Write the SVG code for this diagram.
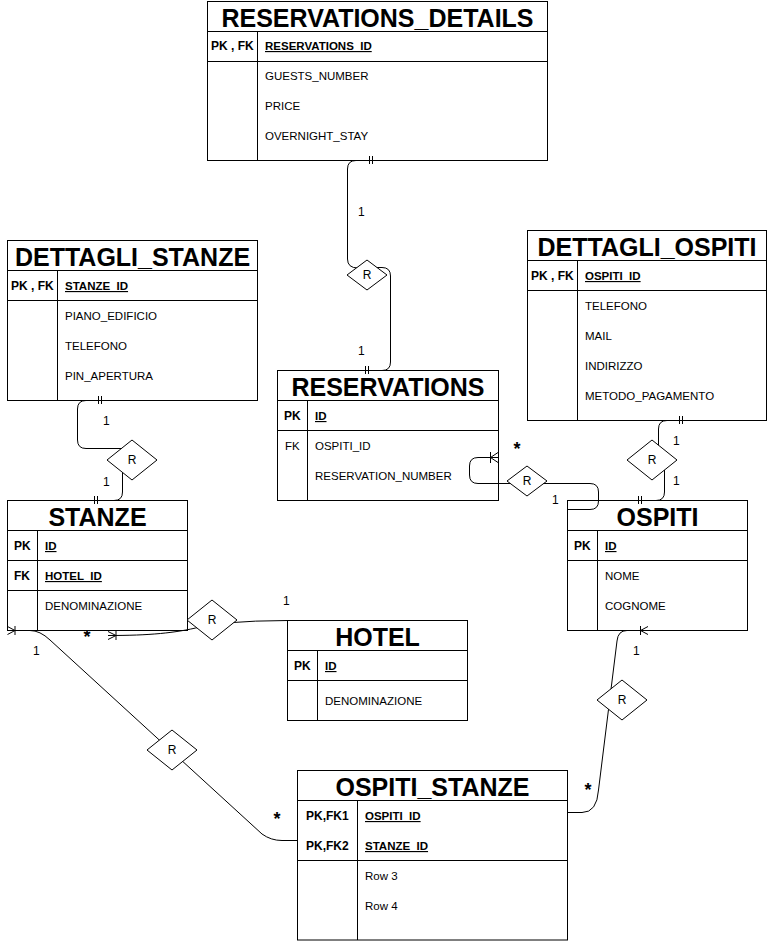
<svg xmlns="http://www.w3.org/2000/svg" width="768" height="941" viewBox="0 0 768 941">
<style>
.bg{fill:#fff}
.box{fill:#fff;stroke:#000;stroke-width:1}
.ln{fill:none;stroke:#000;stroke-width:1}
.title{font-family:"Liberation Sans",Arial,sans-serif;font-weight:bold;font-size:25px;text-anchor:middle;fill:#000}
.pk{font-family:"Liberation Sans",Arial,sans-serif;font-weight:bold;font-size:12px;fill:#000}
.key{font-family:"Liberation Sans",Arial,sans-serif;font-weight:bold;font-size:11.5px;text-decoration:underline;fill:#000}
.attr{font-family:"Liberation Sans",Arial,sans-serif;font-size:11.5px;fill:#000}
.lbl{font-family:"Liberation Sans",Arial,sans-serif;font-size:12px;fill:#000}
.star{font-family:"Liberation Sans",Arial,sans-serif;font-weight:bold;font-size:18px;fill:#000;text-anchor:middle}
.rel{fill:#fff;stroke:#000;stroke-width:1}
.rt{font-family:"Liberation Sans",Arial,sans-serif;font-size:12px;text-anchor:middle;fill:#000}
</style>
<rect class="bg" x="0" y="0" width="768" height="941"/>

<g id="reservations_details">
<rect class="box" x="207.5" y="1.5" width="340" height="159"/>
<path class="ln" d="M207.5 31.5H547.5M207.5 61.5H547.5M257.5 31.5V160.5"/>
<text class="title" x="377.5" y="27">RESERVATIONS_DETAILS</text>
<text class="pk" x="211" y="50">PK , FK</text>
<text class="key" x="265" y="50">RESERVATIONS_ID</text>
<text class="attr" x="265" y="80">GUESTS_NUMBER</text>
<text class="attr" x="265" y="110">PRICE</text>
<text class="attr" x="265" y="140">OVERNIGHT_STAY</text>
</g>

<g id="dettagli_stanze">
<rect class="box" x="7.5" y="240.5" width="250" height="160"/>
<path class="ln" d="M7.5 270.5H257.5M7.5 300.5H257.5M57.5 270.5V400.5"/>
<text class="title" x="132.5" y="266">DETTAGLI_STANZE</text>
<text class="pk" x="11" y="290">PK , FK</text>
<text class="key" x="65" y="290">STANZE_ID</text>
<text class="attr" x="65" y="320">PIANO_EDIFICIO</text>
<text class="attr" x="65" y="350">TELEFONO</text>
<text class="attr" x="65" y="380">PIN_APERTURA</text>
</g>

<g id="reservations">
<rect class="box" x="277.5" y="370.5" width="221" height="130"/>
<path class="ln" d="M277.5 400.5H498.5M277.5 430.5H498.5M307.5 400.5V500.5"/>
<text class="title" x="388" y="396">RESERVATIONS</text>
<text class="pk" x="284" y="420">PK</text>
<text class="key" x="315" y="420">ID</text>
<text class="attr" x="285" y="450">FK</text>
<text class="attr" x="315" y="450">OSPITI_ID</text>
<text class="attr" x="315" y="480">RESERVATION_NUMBER</text>
</g>

<g id="dettagli_ospiti">
<rect class="box" x="527.5" y="230.5" width="239" height="190"/>
<path class="ln" d="M527.5 260.5H766.5M527.5 290.5H766.5M577.5 260.5V420.5"/>
<text class="title" x="647" y="256">DETTAGLI_OSPITI</text>
<text class="pk" x="531" y="280">PK , FK</text>
<text class="key" x="585" y="280">OSPITI_ID</text>
<text class="attr" x="585" y="310">TELEFONO</text>
<text class="attr" x="585" y="340">MAIL</text>
<text class="attr" x="585" y="370">INDIRIZZO</text>
<text class="attr" x="585" y="400">METODO_PAGAMENTO</text>
</g>

<g id="stanze">
<rect class="box" x="7.5" y="500.5" width="180" height="130"/>
<path class="ln" d="M7.5 530.5H187.5M7.5 560.5H187.5M7.5 590.5H187.5M37.5 530.5V630.5"/>
<text class="title" x="97.5" y="526">STANZE</text>
<text class="pk" x="14" y="550">PK</text>
<text class="key" x="45" y="550">ID</text>
<text class="pk" x="14" y="580">FK</text>
<text class="key" x="45" y="580">HOTEL_ID</text>
<text class="attr" x="45" y="610">DENOMINAZIONE</text>
</g>

<g id="hotel">
<rect class="box" x="287.5" y="620.5" width="180" height="100"/>
<path class="ln" d="M287.5 650.5H467.5M287.5 680.5H467.5M317.5 650.5V720.5"/>
<text class="title" x="377.5" y="646">HOTEL</text>
<text class="pk" x="294" y="670">PK</text>
<text class="key" x="325" y="670">ID</text>
<text class="attr" x="325" y="705">DENOMINAZIONE</text>
</g>

<g id="ospiti">
<rect class="box" x="567.5" y="500.5" width="180" height="130"/>
<path class="ln" d="M567.5 530.5H747.5M567.5 560.5H747.5M597.5 530.5V630.5"/>
<text class="title" x="657.5" y="526">OSPITI</text>
<text class="pk" x="574" y="550">PK</text>
<text class="key" x="605" y="550">ID</text>
<text class="attr" x="605" y="580">NOME</text>
<text class="attr" x="605" y="610">COGNOME</text>
</g>

<g id="ospiti_stanze">
<rect class="box" x="297.5" y="770.5" width="270" height="169.5"/>
<path class="ln" d="M297.5 800.5H567.5M297.5 860.5H567.5M357.5 800.5V940"/>
<text class="title" x="432.5" y="796">OSPITI_STANZE</text>
<text class="pk" x="306" y="820">PK,FK1</text>
<text class="key" x="365" y="820">OSPITI_ID</text>
<text class="pk" x="306" y="850">PK,FK2</text>
<text class="key" x="365" y="850">STANZE_ID</text>
<text class="attr" x="365" y="880">Row 3</text>
<text class="attr" x="365" y="910">Row 4</text>
</g>

<g id="connectors">
<!-- RESERVATIONS_DETAILS - R - RESERVATIONS -->
<path class="ln" d="M373 160.5H356Q347.5 160.5 347.5 169V259Q347.5 268 358 268"/>
<path class="ln" d="M369.5 156V164M372.5 156V164"/>
<path class="ln" d="M376 267.5H382Q390.5 267.5 390.5 276V362Q390.5 370.5 382 370.5H364"/>
<path class="ln" d="M365.5 366V374M368.5 366V374"/>
<!-- DETTAGLI_STANZE - R - STANZE -->
<path class="ln" d="M102 400.5H86Q77.5 400.5 77.5 409V440Q77.5 448.5 86 448.5H122"/>
<path class="ln" d="M98.5 396V404M101.5 396V404"/>
<path class="ln" d="M122.5 468V492Q122.5 500.5 114 500.5H92"/>
<path class="ln" d="M94.5 496V504M97.5 496V504"/>
<!-- DETTAGLI_OSPITI - R - OSPITI -->
<path class="ln" d="M684 420.5H667Q658.5 420.5 658.5 429V448"/>
<path class="ln" d="M679.5 416V424M682.5 416V424"/>
<path class="ln" d="M664.5 470V492Q664.5 500.5 656 500.5H636"/>
<path class="ln" d="M638.5 496V504M641.5 496V504"/>
<!-- RESERVATIONS - R - OSPITI -->
<path class="ln" d="M498 457.5H478Q469.5 457.5 469.5 466V475Q469.5 483.5 478 483.5H515"/>
<path class="ln" d="M490.5 452V463M490.5 457.5L498 452.5M490.5 457.5L498 462.5"/>
<path class="ln" d="M540 483.5H590Q598.5 483.5 598.5 492V501Q598.5 509.5 590 509.5H567.5"/>
<!-- STANZE - R - HOTEL -->
<path class="ln" d="M108 635.5C150 635.5 175 633 200 627"/>
<path class="ln" d="M108 631.5L116 635.5L108 639.5M116 631V640"/>
<path class="ln" d="M225 623Q255 620.5 287.5 620.5"/>
<!-- STANZE - R - OSPITI_STANZE -->
<path class="ln" d="M7.5 630.5H30Q40 630.5 50 640L262 834Q271 840.5 282 840.5H297.5"/>
<path class="ln" d="M7.5 626.5L15 630.5L7.5 634.5M15 626V635"/>
<!-- OSPITI - R - OSPITI_STANZE -->
<path class="ln" d="M640 630.5H627Q618 630.5 617 641L598.5 790Q597 812.5 582 812.5H567.5"/>
<path class="ln" d="M640.5 626V635M640.5 630.5L648 626.5M640.5 630.5L648 634.5"/>
<!-- cardinality labels -->
<text class="lbl" x="358" y="216">1</text>
<text class="lbl" x="358" y="355">1</text>
<text class="lbl" x="103" y="425">1</text>
<text class="lbl" x="103" y="486">1</text>
<text class="lbl" x="673" y="445">1</text>
<text class="lbl" x="673" y="485">1</text>
<text class="lbl" x="552" y="504">1</text>
<text class="lbl" x="283" y="605">1</text>
<text class="lbl" x="33" y="655">1</text>
<text class="lbl" x="633" y="655">1</text>
<text class="star" x="517" y="455">*</text>
<text class="star" x="87" y="643">*</text>
<text class="star" x="277" y="825">*</text>
<text class="star" x="588" y="796">*</text>
</g>

<g id="rel_res_details">
<polygon class="rel" points="367,260 387,275 367,290 347,275"/>
<text class="rt" x="367" y="279">R</text>
</g>
<g id="rel_dettagli_stanze">
<polygon class="rel" points="132,440 157,460 132,480 107,460"/>
<text class="rt" x="132" y="464">R</text>
</g>
<g id="rel_dettagli_ospiti">
<polygon class="rel" points="652,440 677,460 652,480 627,460"/>
<text class="rt" x="652" y="464">R</text>
</g>
<g id="rel_reservations_ospiti">
<polygon class="rel" points="527,466 547,481 527,496 507,481"/>
<text class="rt" x="527" y="485">R</text>
</g>
<g id="rel_stanze_hotel">
<polygon class="rel" points="212,600 237,620 212,640 187,620"/>
<text class="rt" x="212" y="624">R</text>
</g>
<g id="rel_stanze_ospiti_stanze">
<polygon class="rel" points="172,730 197,750 172,770 147,750"/>
<text class="rt" x="172" y="754">R</text>
</g>
<g id="rel_ospiti_ospiti_stanze">
<polygon class="rel" points="622,680 647,700 622,720 597,700"/>
<text class="rt" x="622" y="704">R</text>
</g>
</svg>
